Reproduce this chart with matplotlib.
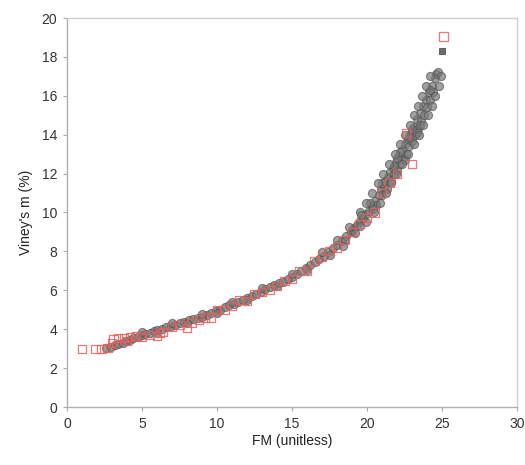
import matplotlib
matplotlib.use("Agg")
import matplotlib.pyplot as plt

# Gray circles (FM, Viney's m)
gray_x = [2.6, 2.9, 3.2, 3.4, 3.7, 3.9, 4.2, 4.4, 4.7, 5.0, 5.2, 5.5, 5.8, 6.0, 6.3, 6.6, 6.9, 7.2,
          7.5, 7.8, 8.1, 8.4, 8.7, 9.0, 9.3, 9.6, 9.9, 10.2, 10.5, 10.8, 11.1, 11.4, 11.7, 12.0,
          12.3, 12.6, 12.9, 13.2, 13.5, 13.8, 14.1, 14.4, 14.7, 15.0, 15.3, 15.6, 15.9, 16.2,
          16.5, 16.8, 17.1, 17.4, 17.7, 18.0, 18.3, 18.6, 18.9, 19.1, 19.3, 19.5, 19.7, 19.9,
          20.1, 20.3, 20.5, 20.6, 20.8, 20.9, 21.0, 21.1, 21.2, 21.3, 21.4, 21.5, 21.6, 21.7,
          21.8, 21.9, 22.0, 22.1, 22.2, 22.3, 22.4, 22.5, 22.6, 22.7, 22.8, 22.9, 23.0, 23.1,
          23.2, 23.3, 23.4, 23.5, 23.6, 23.7, 23.8, 23.9, 24.0, 24.1, 24.2, 24.3, 24.4, 24.5,
          24.6, 24.7, 20.2, 21.0, 22.0, 22.5, 23.0, 23.5, 21.8, 22.8, 24.2, 20.4, 19.5, 19.0,
          18.5, 23.3, 22.2,
          19.55, 19.9, 20.35, 20.7, 21.05, 21.45, 21.85, 22.2, 22.55, 22.85, 23.15, 23.4, 23.65,
          23.9, 24.2,
          20.45, 20.85, 21.25, 21.6, 21.95, 22.35, 22.75, 23.1, 23.45, 23.75, 24.05, 24.3, 24.55,
          24.8, 24.9,
          17.0, 17.5, 18.0, 18.4, 18.8, 19.2, 19.6, 19.9,
          5.0, 6.0, 7.0, 8.0, 9.0, 10.0, 11.0, 12.0, 13.0, 14.0, 15.0, 16.0]
gray_y = [3.05, 3.1, 3.2, 3.25, 3.3, 3.4, 3.45, 3.55, 3.6, 3.7, 3.75, 3.8, 3.9, 3.95, 4.0, 4.1,
          4.15, 4.2, 4.3, 4.35, 4.45, 4.5, 4.6, 4.65, 4.75, 4.85, 4.95, 5.0, 5.15, 5.25, 5.3,
          5.4, 5.5, 5.6, 5.7, 5.8, 5.9, 6.05, 6.15, 6.25, 6.35, 6.45, 6.6, 6.7, 6.85, 7.0,
          7.15, 7.3, 7.45, 7.6, 7.75, 7.95, 8.15, 8.35, 8.55, 8.8, 9.0, 9.2, 9.35, 9.55, 9.7,
          9.9, 10.1, 10.3, 10.6, 10.4, 10.9, 11.2, 10.9, 11.3, 11.6, 11.2, 11.8, 12.1, 11.6,
          12.3, 12.0, 12.6, 12.2, 12.9, 12.5, 13.2, 12.8, 13.5, 13.0, 13.8, 13.4, 14.1, 13.7,
          14.4, 14.0, 14.8, 14.3, 15.1, 14.7, 15.5, 15.0, 15.8, 15.4, 16.2, 15.8, 16.5, 16.2,
          16.9, 17.1, 17.2, 10.5, 11.5, 12.8, 12.7, 14.3, 14.5, 12.4, 13.9, 16.3, 10.2, 9.3,
          9.1, 8.6, 14.1, 13.1,
          10.0, 10.5, 11.0, 11.5, 12.0, 12.5, 13.0, 13.5, 14.0, 14.5, 15.0, 15.5, 16.0, 16.5,
          17.0,
          10.0, 10.5, 11.0, 11.5, 12.0, 12.5, 13.0, 13.5, 14.0, 14.5, 15.0, 15.5, 16.0, 16.5,
          17.0,
          7.95, 7.8, 8.6, 8.3, 9.25, 8.95, 9.85, 9.5,
          3.85, 3.8, 4.3, 4.3, 4.8, 4.85, 5.4, 5.5, 6.1, 6.2, 6.85, 7.05]

# Single dark gray square
sq_x = [25.0]
sq_y = [18.3]

# Red open squares
red_x = [1.0, 1.9, 2.3, 2.7, 3.1, 3.4, 3.8, 4.2, 4.6, 5.0, 5.5, 6.0, 6.4, 7.0, 7.5, 8.0, 8.3,
         8.8, 9.2, 9.6, 10.0, 10.5, 11.0, 11.5, 12.0, 12.5, 13.0, 13.5, 14.0, 14.5, 15.0, 15.5,
         16.0, 16.5, 17.0, 17.5, 18.0, 18.5, 19.0, 19.5, 20.0, 20.5, 21.0, 21.5, 22.0, 22.6,
         23.0, 25.1, 6.2, 4.0, 3.0]
red_y = [3.0, 3.0, 3.0, 3.05, 3.5, 3.55, 3.55, 3.6, 3.65, 3.6, 3.7, 3.65, 3.85, 4.1, 4.2,
         4.05, 4.3, 4.5, 4.6, 4.6, 5.0, 5.0, 5.2, 5.5, 5.45, 5.8, 5.9, 6.0, 6.2, 6.5, 6.6, 7.0,
         7.0, 7.5, 7.7, 8.0, 8.2, 8.6, 9.0, 9.4, 9.7, 10.0, 11.0, 11.5, 12.0, 14.1, 12.5,
         19.05, 3.8, 3.4, 3.3]

x_ticks = [0, 5, 10, 15, 20, 25, 30]
y_ticks = [0, 2, 4, 6, 8, 10, 12, 14, 16, 18, 20]

plt.rcParams['font.family'] = ['Liberation Sans', 'DejaVu Sans']

fig = plt.figure(figsize=(5.25, 4.65), dpi=100)
ax = fig.add_axes([67/525, 58/465, 450/525, 389/465])

ax.scatter(gray_x, gray_y, s=34, marker='o', facecolor='#7a7a7a', edgecolor='#555555',
           linewidths=0.8, alpha=0.7, zorder=2)
ax.scatter(sq_x, sq_y, s=14, marker='s', facecolor='#6a6a6a', edgecolor='#555555',
           linewidths=0.6, zorder=3)
ax.scatter(red_x, red_y, s=34, marker='s', facecolor='none', edgecolor='#e8605a',
           linewidths=0.9, alpha=0.85, zorder=3)

ax.set_xlim(0, 30)
ax.set_ylim(0, 20)
ax.set_xticks(x_ticks)
ax.set_yticks(y_ticks)
ax.tick_params(direction='out', length=3, color='#aaaaaa', labelsize=10,
               labelcolor='#333333', pad=4)
for s in ax.spines.values():
    s.set_color('#b0b0b0')
    s.set_linewidth(1.0)
ax.spines['top'].set_color('#d0d0d0')
ax.spines['right'].set_color('#d0d0d0')

ax.set_xlabel('FM (unitless)', fontsize=10, color='#222222', labelpad=2)
ax.set_ylabel("Viney's m (%)", fontsize=10, color='#222222', labelpad=6)

fig.savefig('out.png', dpi=100)
